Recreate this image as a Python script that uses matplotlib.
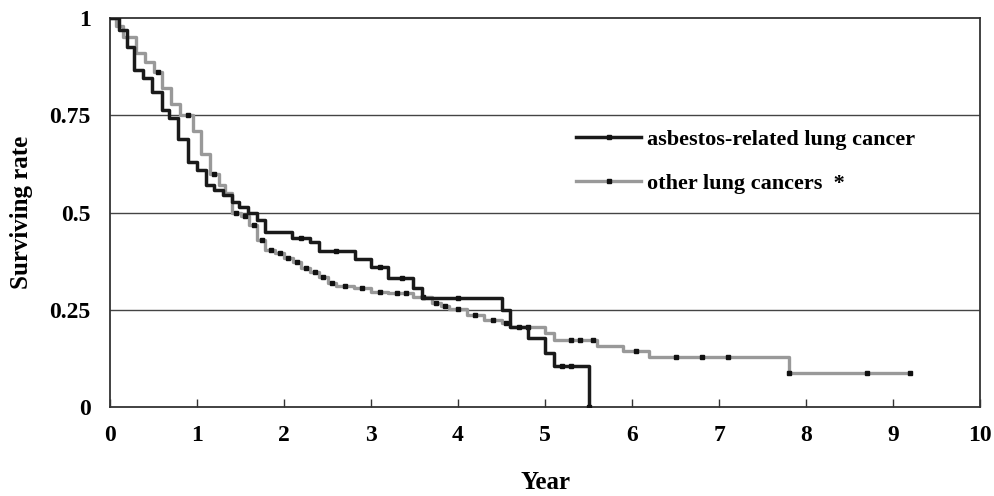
import matplotlib.pyplot as plt
from matplotlib.lines import Line2D

# asbestos-related lung cancer (Kaplan-Meier steps)
asb_t = [0, 0.1, 0.2, 0.28, 0.38, 0.48, 0.6, 0.68, 0.78, 0.9, 1.0, 1.1, 1.2, 1.3,
         1.4, 1.48, 1.58, 1.69, 1.78, 2.09, 2.3, 2.4, 2.82, 3.0, 3.2, 3.48, 3.59,
         4.5, 4.6, 4.8, 5.0, 5.1, 5.5]
asb_s = [1.0, 0.97, 0.925, 0.866, 0.845, 0.81, 0.763, 0.743, 0.69, 0.63, 0.61, 0.571,
         0.558, 0.545, 0.527, 0.514, 0.50, 0.48, 0.45, 0.434, 0.424, 0.40, 0.38, 0.36,
         0.332, 0.306, 0.28, 0.249, 0.206, 0.177, 0.139, 0.105, 0.0]
asb_cens = [2.2, 2.6, 3.1, 3.35, 4.0, 4.7, 5.2, 5.3, 5.5]

# other lung cancers
oth_t = [0, 0.07, 0.15, 0.3, 0.4, 0.5, 0.6, 0.7, 0.8, 0.95, 1.05, 1.15, 1.25, 1.32,
         1.4, 1.5, 1.6, 1.69, 1.78, 1.9, 2.0, 2.1, 2.2, 2.3, 2.4, 2.5, 2.6, 2.8, 3.0,
         3.2, 3.48, 3.7, 3.8, 3.9, 4.1, 4.3, 4.5, 4.6, 5.0, 5.1, 5.6, 5.9, 6.2, 7.8, 9.2]
oth_s = [1.0, 0.98, 0.95, 0.91, 0.887, 0.86, 0.82, 0.78, 0.75, 0.71, 0.65, 0.6, 0.57,
         0.55, 0.5, 0.49, 0.468, 0.43, 0.404, 0.395, 0.383, 0.373, 0.357, 0.347, 0.334,
         0.318, 0.311, 0.306, 0.296, 0.293, 0.283, 0.267, 0.26, 0.252, 0.236, 0.224,
         0.216, 0.206, 0.19, 0.172, 0.157, 0.144, 0.129, 0.087, 0.087]
oth_cens = [0.55, 0.9, 1.2, 1.45, 1.55, 1.65, 1.75, 1.85, 1.95, 2.05, 2.15, 2.25, 2.35,
            2.45, 2.55, 2.7, 2.9, 3.1, 3.3, 3.4, 3.6, 3.75, 3.85, 4.0, 4.2, 4.4, 4.55,
            4.8, 5.3, 5.4, 5.55, 6.05, 6.5, 6.8, 7.1, 7.8, 8.7, 9.2]

x_ticks = list(range(0, 11))
y_ticks = [0, 0.25, 0.5, 0.75, 1]
y_labels = ["0", "0.25", "0.5", "0.75", "1"]


def step_value(ts, ss, x):
    v = ss[0]
    for t, s in zip(ts, ss):
        if t <= x:
            v = s
    return v


plt.rcParams["font.family"] = ["Liberation Serif", "DejaVu Serif"]
plt.rcParams["font.weight"] = "bold"

fig = plt.figure(figsize=(9.95, 4.96), dpi=100)
ax = fig.add_axes([0.1106, 0.1794, 0.8744, 0.7843])

for y in [0.25, 0.5, 0.75]:
    ax.axhline(y, color="#444444", lw=1.0, zorder=1)

gray = "#999999"
ax.step(oth_t, oth_s, where="post", color=gray, lw=2.4, zorder=2)
ax.plot(oth_cens, [step_value(oth_t, oth_s, c) for c in oth_cens], "s",
        color="#111111", ms=2.2, zorder=3)
ax.step(asb_t, asb_s, where="post", color="#1a1a1a", lw=2.5, zorder=4)
ax.plot(asb_cens, [step_value(asb_t, asb_s, c) for c in asb_cens], "s",
        color="#111111", ms=2.2, zorder=5)

ax.set_xlim(0, 10)
ax.set_ylim(0, 1)
ax.set_xticks(x_ticks)
ax.set_xticklabels([str(v) for v in x_ticks], fontsize=17, fontweight="bold")
ax.set_yticks(y_ticks)
ax.set_yticklabels(y_labels, fontsize=17, fontweight="bold")
ax.tick_params(axis="x", direction="in", length=6, width=1, pad=13, color="#333333")
ax.tick_params(axis="y", length=0, pad=14)
for sp in ax.spines.values():
    sp.set_color("#333333")
    sp.set_linewidth(1.3)

ax.set_xlabel("Year", fontsize=18, fontweight="bold", labelpad=18)
ax.set_ylabel("Surviving rate", fontsize=18, fontweight="bold", labelpad=12)

handles = [
    Line2D([], [], color="#1a1a1a", lw=2.5, marker="s", ms=2.2, mfc="#111111",
           mec="#111111"),
    Line2D([], [], color=gray, lw=2.4, marker="s", ms=2.2, mfc="#111111",
           mec="#111111"),
]
ax.legend(handles, ["asbestos-related lung cancer", "other lung cancers  *"],
          loc="upper left", bbox_to_anchor=(0.513, 0.765), frameon=False,
          numpoints=1, handlelength=2.9, handletextpad=0.3, labelspacing=1.05,
          prop={"size": 16, "weight": "bold"})

fig.savefig("out.png", dpi=100)
